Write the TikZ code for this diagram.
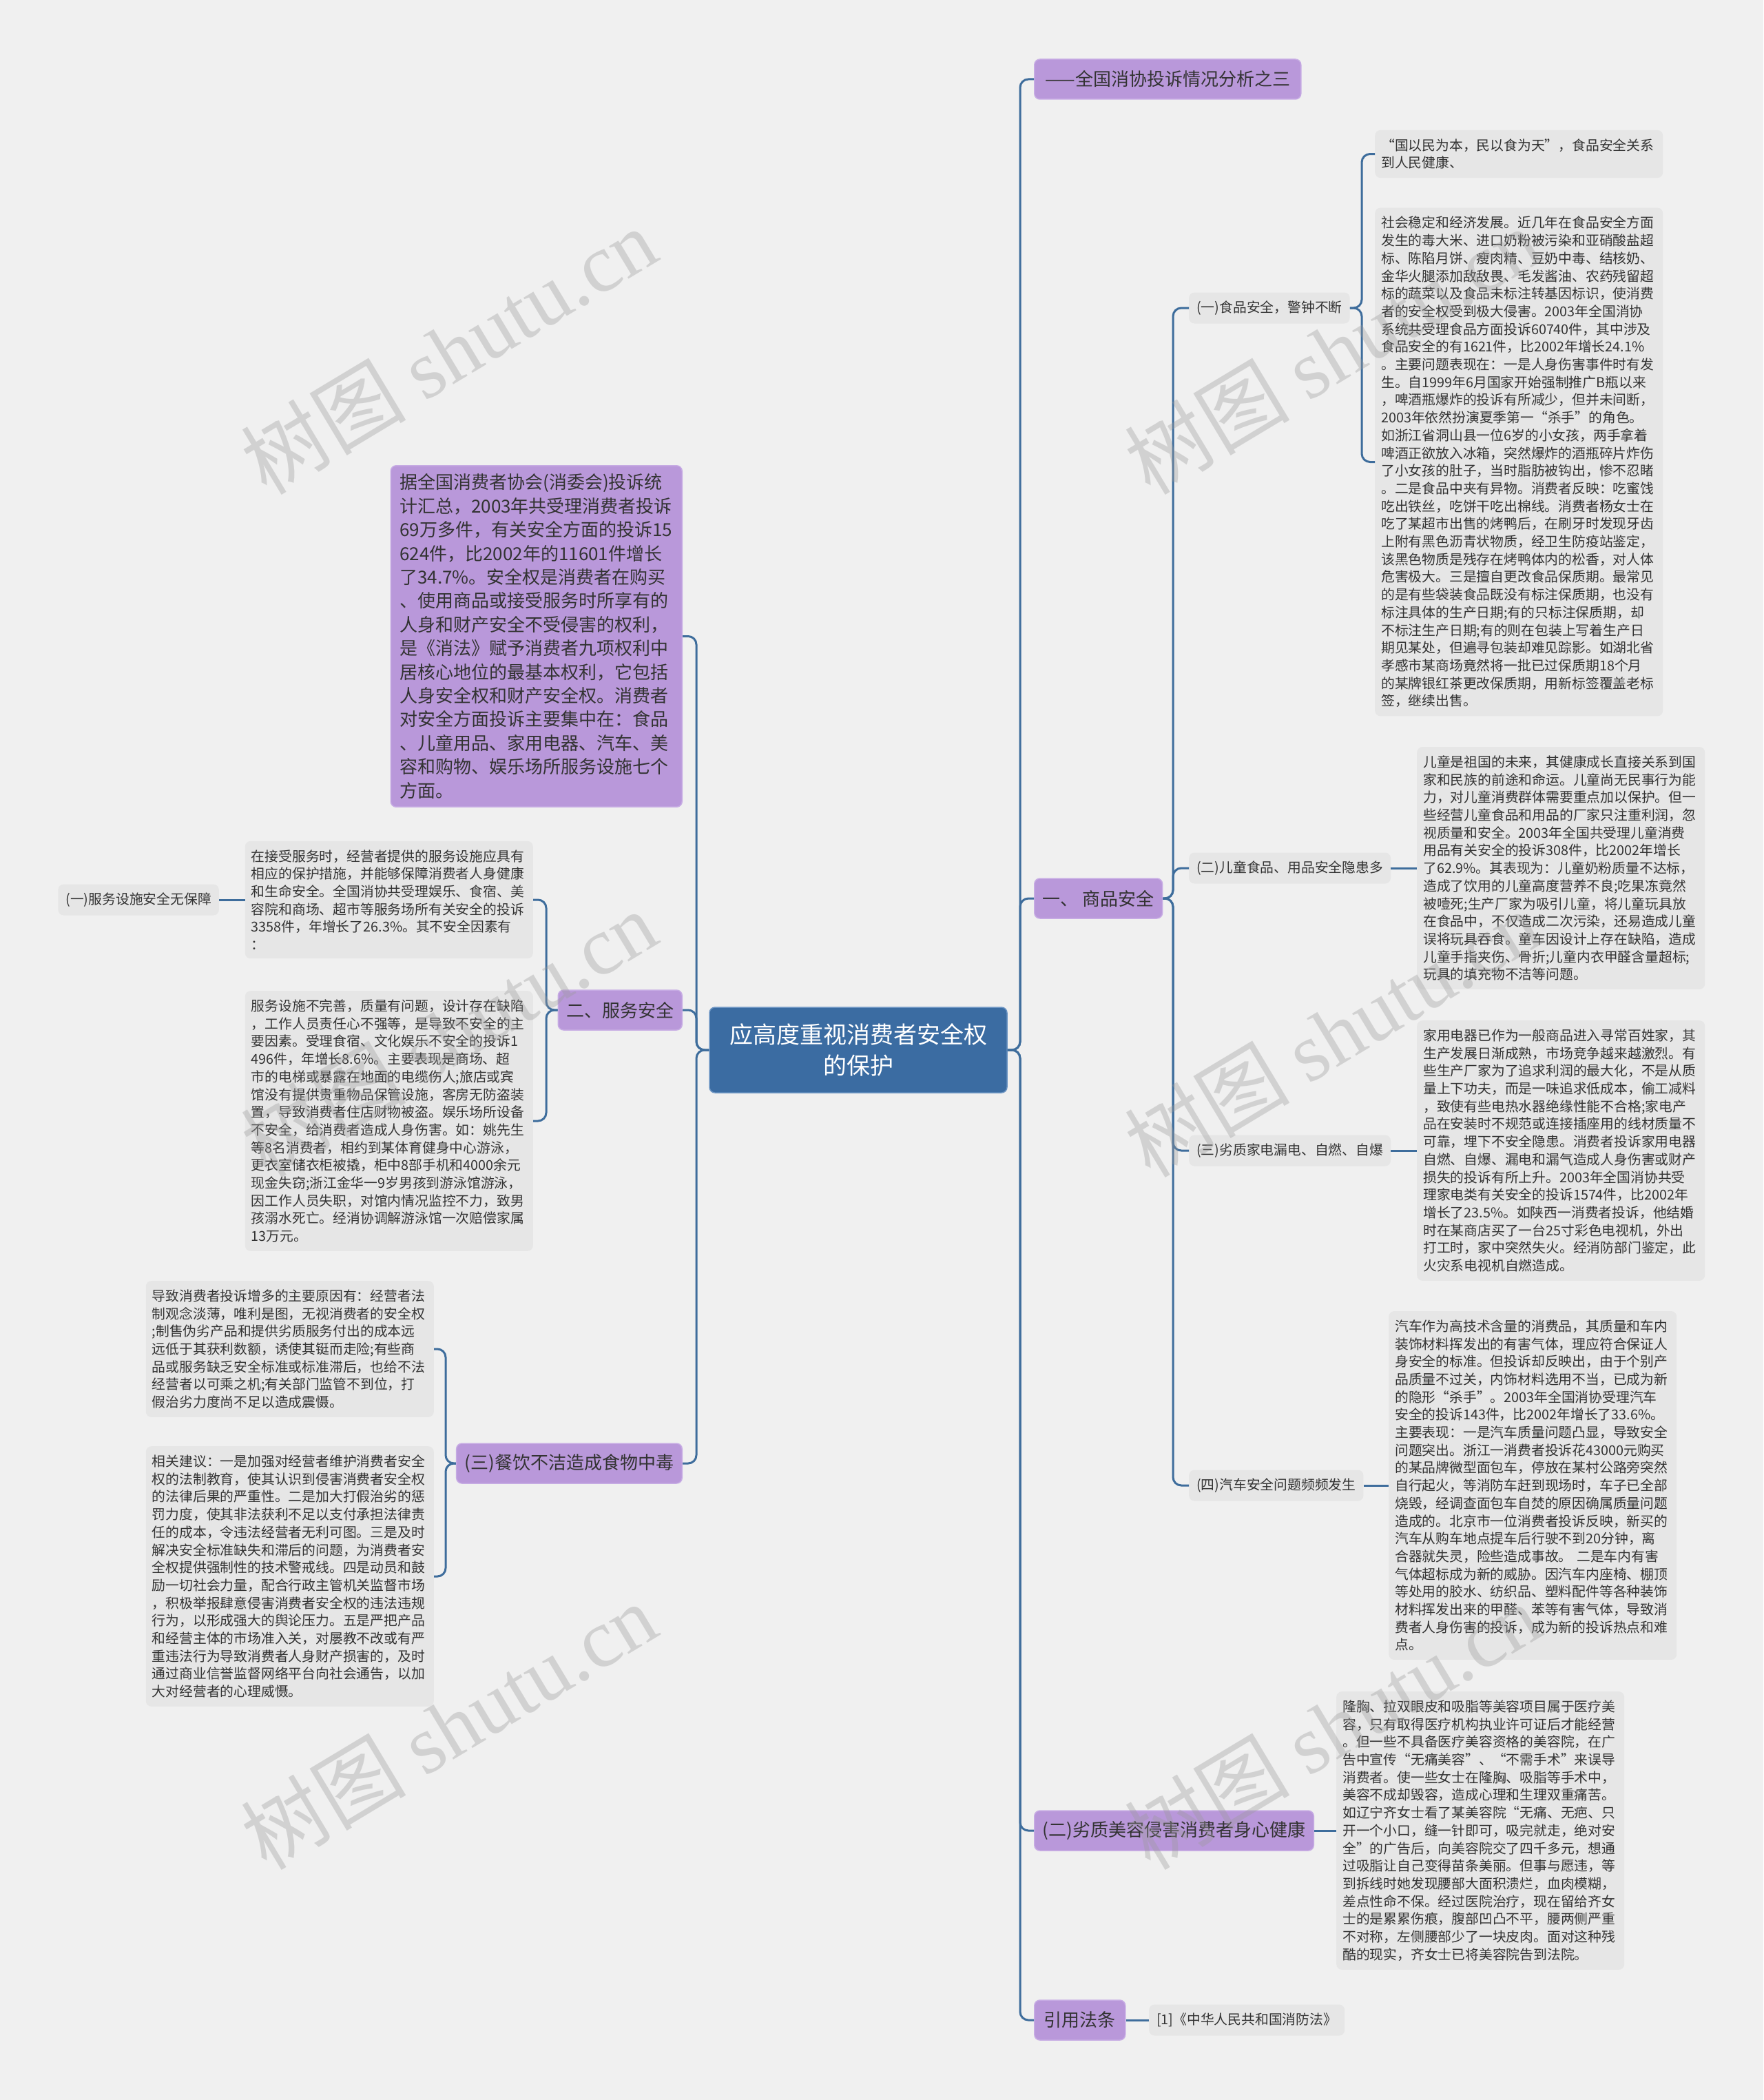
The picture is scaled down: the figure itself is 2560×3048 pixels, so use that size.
\documentclass[tikz,border=0pt]{standalone}
\usepackage{fontspec}
\setmainfont{Noto Sans CJK SC}
\newfontfamily\wmserif{Liberation Serif}
\usetikzlibrary{calc}
\definecolor{bgc}{HTML}{F0F0F0}
\definecolor{boxc}{HTML}{E6E6E6}
\definecolor{purp}{HTML}{B998DA}
\definecolor{purpline}{HTML}{C7ACE4}
\definecolor{linec}{HTML}{3E6D9C}
\definecolor{cenc}{HTML}{3B6CA2}
\definecolor{cenline}{HTML}{6A93C2}
\definecolor{txt}{HTML}{333333}
\definecolor{wmc}{HTML}{9A9A9A}
\tikzset{
 conn/.style={draw=linec, line width=3pt, rounded corners=12pt},
 graybox/.style={fill=boxc, rounded corners=8pt, text=txt, inner xsep=9pt, inner ysep=12.5pt, align=left, text width=400pt, font=\fontsize{19.8}{25.7}\selectfont},
 lbl/.style={fill=boxc, rounded corners=8pt, text=txt, inner xsep=11pt, inner ysep=0pt, minimum height=45pt, font=\fontsize{19.8}{24}\selectfont},
 pnode/.style={fill=purp, draw=purpline, line width=1.5pt, rounded corners=8pt, text=txt, inner xsep=12pt, inner ysep=0pt, minimum height=58pt, font=\fontsize{26}{31}\selectfont},
 bigp/.style={fill=purp, draw=purpline, line width=1.5pt, rounded corners=8pt, text=txt, inner xsep=13pt, inner ysep=12pt, align=left, text width=397pt, font=\fontsize{26}{34.4}\selectfont},
 cnode/.style={fill=cenc, draw=cenline, line width=1.5pt, rounded corners=8pt, text=white, align=center, minimum width=432pt, minimum height=124pt, font=\fontsize{34}{45}\selectfont},
 wm/.style={text=wmc, opacity=0.35, rotate=31, inner sep=0pt, font=\fontsize{120}{140}\selectfont}
}
\begin{document}
\begin{tikzpicture}[x=1pt,y=-1pt]
\fill[bgc] (0,0) rectangle (2560,3048);
\useasboundingbox (0,0) rectangle (2560,3048);

% centre
\node[cnode] (C) at (1246,1524) {应高度重视消费者安全权\\的保护};

% right level 1
\node[pnode, anchor=west, minimum width=387pt] (R1) at (1501,115) {——全国消协投诉情况分析之三};
\node[pnode, anchor=west, minimum width=183pt] (R2) at (1501,1304) {一、 商品安全};
\node[pnode, anchor=west, minimum width=404pt] (R3) at (1501,2657) {(二)劣质美容侵害消费者身心健康};
\node[pnode, anchor=west, minimum width=132pt] (R4) at (1501,2932) {引用法条};

% right level 2
\node[lbl, anchor=west] (A1) at (1726,447) {(一)食品安全，警钟不断};
\node[lbl, anchor=west] (A2) at (1726,1260) {(二)儿童食品、用品安全隐患多};
\node[lbl, anchor=west] (A3) at (1726,1670) {(三)劣质家电漏电、自燃、自爆};
\node[lbl, anchor=west] (A4) at (1726,2156) {(四)汽车安全问题频频发生};

% food
\node[graybox, anchor=west] (F1) at (1996,223.5) {“国以民为本，民以食为天”，食品安全关系\\到人民健康、};
\node[graybox, anchor=west] (F2) at (1996,670.5) {社会稳定和经济发展。近几年在食品安全方面\\
发生的毒大米、进口奶粉被污染和亚硝酸盐超\\
标、陈陷月饼、瘦肉精、豆奶中毒、结核奶、\\
金华火腿添加敌敌畏、毛发酱油、农药残留超\\
标的蔬菜以及食品未标注转基因标识，使消费\\
者的安全权受到极大侵害。2003年全国消协\\
系统共受理食品方面投诉60740件，其中涉及\\
食品安全的有1621件，比2002年增长24.1\%\\
。主要问题表现在：一是人身伤害事件时有发\\
生。自1999年6月国家开始强制推广B瓶以来\\
，啤酒瓶爆炸的投诉有所减少，但并未间断，\\
2003年依然扮演夏季第一“杀手”的角色。\\
如浙江省洞山县一位6岁的小女孩，两手拿着\\
啤酒正欲放入冰箱，突然爆炸的酒瓶碎片炸伤\\
了小女孩的肚子，当时脂肪被钩出，惨不忍睹\\
。二是食品中夹有异物。消费者反映：吃蜜饯\\
吃出铁丝，吃饼干吃出棉线。消费者杨女士在\\
吃了某超市出售的烤鸭后，在刷牙时发现牙齿\\
上附有黑色沥青状物质，经卫生防疫站鉴定，\\
该黑色物质是残存在烤鸭体内的松香，对人体\\
危害极大。三是擅自更改食品保质期。最常见\\
的是有些袋装食品既没有标注保质期，也没有\\
标注具体的生产日期;有的只标注保质期，却\\
不标注生产日期;有的则在包装上写着生产日\\
期见某处，但遍寻包装却难见踪影。如湖北省\\
孝感市某商场竟然将一批已过保质期18个月\\
的某牌银红茶更改保质期，用新标签覆盖老标\\
签，继续出售。};

% children
\node[graybox, anchor=west] (K) at (2057,1260) {儿童是祖国的未来，其健康成长直接关系到国\\
家和民族的前途和命运。儿童尚无民事行为能\\
力，对儿童消费群体需要重点加以保护。但一\\
些经营儿童食品和用品的厂家只注重利润，忽\\
视质量和安全。2003年全国共受理儿童消费\\
用品有关安全的投诉308件，比2002年增长\\
了62.9\%。其表现为：儿童奶粉质量不达标，\\
造成了饮用的儿童高度营养不良;吃果冻竟然\\
被噎死;生产厂家为吸引儿童，将儿童玩具放\\
在食品中，不仅造成二次污染，还易造成儿童\\
误将玩具吞食。童车因设计上存在缺陷，造成\\
儿童手指夹伤、骨折;儿童内衣甲醛含量超标;\\
玩具的填充物不洁等问题。};

% appliances
\node[graybox, anchor=west] (E) at (2057,1670) {家用电器已作为一般商品进入寻常百姓家，其\\
生产发展日渐成熟，市场竞争越来越激烈。有\\
些生产厂家为了追求利润的最大化，不是从质\\
量上下功夫，而是一味追求低成本，偷工减料\\
，致使有些电热水器绝缘性能不合格;家电产\\
品在安装时不规范或连接插座用的线材质量不\\
可靠，埋下不安全隐患。消费者投诉家用电器\\
自燃、自爆、漏电和漏气造成人身伤害或财产\\
损失的投诉有所上升。2003年全国消协共受\\
理家电类有关安全的投诉1574件，比2002年\\
增长了23.5\%。如陕西一消费者投诉，他结婚\\
时在某商店买了一台25寸彩色电视机，外出\\
打工时，家中突然失火。经消防部门鉴定，此\\
火灾系电视机自燃造成。};

% cars
\node[graybox, anchor=west] (Q) at (2016,2156) {汽车作为高技术含量的消费品，其质量和车内\\
装饰材料挥发出的有害气体，理应符合保证人\\
身安全的标准。但投诉却反映出，由于个别产\\
品质量不过关，内饰材料选用不当，已成为新\\
的隐形“杀手”。2003年全国消协受理汽车\\
安全的投诉143件，比2002年增长了33.6\%。\\
主要表现：一是汽车质量问题凸显，导致安全\\
问题突出。浙江一消费者投诉花43000元购买\\
的某品牌微型面包车，停放在某村公路旁突然\\
自行起火，等消防车赶到现场时，车子已全部\\
烧毁，经调查面包车自焚的原因确属质量问题\\
造成的。北京市一位消费者投诉反映，新买的\\
汽车从购车地点提车后行驶不到20分钟，离\\
合器就失灵，险些造成事故。 二是车内有害\\
气体超标成为新的威胁。因汽车内座椅、棚顶\\
等处用的胶水、纺织品、塑料配件等各种装饰\\
材料挥发出来的甲醛、苯等有害气体，导致消\\
费者人身伤害的投诉，成为新的投诉热点和难\\
点。};

% beauty
\node[graybox, anchor=west] (B) at (1940,2657) {隆胸、拉双眼皮和吸脂等美容项目属于医疗美\\
容，只有取得医疗机构执业许可证后才能经营\\
。但一些不具备医疗美容资格的美容院，在广\\
告中宣传“无痛美容”、“不需手术”来误导\\
消费者。使一些女士在隆胸、吸脂等手术中，\\
美容不成却毁容，造成心理和生理双重痛苦。\\
如辽宁齐女士看了某美容院“无痛、无疤、只\\
开一个小口，缝一针即可，吸完就走，绝对安\\
全”的广告后，向美容院交了四千多元，想通\\
过吸脂让自己变得苗条美丽。但事与愿违，等\\
到拆线时她发现腰部大面积溃烂，血肉模糊，\\
差点性命不保。经过医院治疗，现在留给齐女\\
士的是累累伤痕，腹部凹凸不平，腰两侧严重\\
不对称，左侧腰部少了一块皮肉。面对这种残\\
酷的现实，齐女士已将美容院告到法院。};

\node[lbl, anchor=west] (Ref) at (1668,2932) {[1]《中华人民共和国消防法》};

% left level 1
\node[bigp, anchor=east] (L1) at (991,923.5) {据全国消费者协会(消委会)投诉统\\
计汇总，2003年共受理消费者投诉\\
69万多件，有关安全方面的投诉15\\
624件，比2002年的11601件增长\\
了34.7\%。安全权是消费者在购买\\
、使用商品或接受服务时所享有的\\
人身和财产安全不受侵害的权利，\\
是《消法》赋予消费者九项权利中\\
居核心地位的最基本权利，它包括\\
人身安全权和财产安全权。消费者\\
对安全方面投诉主要集中在：食品\\
、儿童用品、家用电器、汽车、美\\
容和购物、娱乐场所服务设施七个\\
方面。};
\node[pnode, anchor=east, minimum width=178pt] (L2) at (991,1466) {二、服务安全};
\node[pnode, anchor=east, minimum width=324pt] (L3) at (991,2124) {(三)餐饮不洁造成食物中毒};

% service
\node[graybox, anchor=east] (S1) at (774,1306) {在接受服务时，经营者提供的服务设施应具有\\
相应的保护措施，并能够保障消费者人身健康\\
和生命安全。全国消协共受理娱乐、食宿、美\\
容院和商场、超市等服务场所有关安全的投诉\\
3358件，年增长了26.3\%。其不安全因素有\\
：};
\node[graybox, anchor=east] (S2) at (774,1627) {服务设施不完善，质量有问题，设计存在缺陷\\
，工作人员责任心不强等，是导致不安全的主\\
要因素。受理食宿、文化娱乐不安全的投诉1\\
496件，年增长8.6\%。主要表现是商场、超\\
市的电梯或暴露在地面的电缆伤人;旅店或宾\\
馆没有提供贵重物品保管设施，客房无防盗装\\
置，导致消费者住店财物被盗。娱乐场所设备\\
不安全，给消费者造成人身伤害。如：姚先生\\
等8名消费者，相约到某体育健身中心游泳，\\
更衣室储衣柜被撬，柜中8部手机和4000余元\\
现金失窃;浙江金华一9岁男孩到游泳馆游泳，\\
因工作人员失职，对馆内情况监控不力，致男\\
孩溺水死亡。经消协调解游泳馆一次赔偿家属\\
13万元。};
\node[lbl, anchor=east] (SL) at (318,1306) {(一)服务设施安全无保障};

% food poisoning
\node[graybox, anchor=east] (P1) at (630,1958) {导致消费者投诉增多的主要原因有：经营者法\\
制观念淡薄，唯利是图，无视消费者的安全权\\
;制售伪劣产品和提供劣质服务付出的成本远\\
远低于其获利数额，诱使其铤而走险;有些商\\
品或服务缺乏安全标准或标准滞后，也给不法\\
经营者以可乘之机;有关部门监管不到位，打\\
假治劣力度尚不足以造成震慑。};
\node[graybox, anchor=east] (P2) at (630,2288) {相关建议：一是加强对经营者维护消费者安全\\
权的法制教育，使其认识到侵害消费者安全权\\
的法律后果的严重性。二是加大打假治劣的惩\\
罚力度，使其非法获利不足以支付承担法律责\\
任的成本，令违法经营者无利可图。三是及时\\
解决安全标准缺失和滞后的问题，为消费者安\\
全权提供强制性的技术警戒线。四是动员和鼓\\
励一切社会力量，配合行政主管机关监督市场\\
，积极举报肆意侵害消费者安全权的违法违规\\
行为，以形成强大的舆论压力。五是严把产品\\
和经营主体的市场准入关，对屡教不改或有严\\
重违法行为导致消费者人身财产损害的，及时\\
通过商业信誉监督网络平台向社会通告，以加\\
大对经营者的心理威慑。};

% spines
\coordinate (sR) at (1481,0);
\coordinate (s2) at (1703,0);
\coordinate (s3) at (1977,0);
\coordinate (sL) at (1011,0);
\coordinate (sS) at (793,0);
\coordinate (sP) at (647,0);

% connectors right
\foreach \n in {R1,R2,R3,R4} \draw[conn] (C.east) -- (C.east -| sR) |- (\n.west);
\foreach \n in {A1,A2,A3,A4} \draw[conn] (R2.east) -- (R2.east -| s2) |- (\n.west);
\foreach \n in {F1,F2} \draw[conn] (A1.east) -- (A1.east -| s3) |- (\n.west);
\draw[conn] (A2.east) -- (K.west);
\draw[conn] (A3.east) -- (E.west);
\draw[conn] (A4.east) -- (Q.west);
\draw[conn] (R3.east) -- (B.west);
\draw[conn] (R4.east) -- (Ref.west);
% connectors left
\foreach \n in {L1,L2,L3} \draw[conn] (C.west) -- (C.west -| sL) |- (\n.east);
\foreach \n in {S1,S2} \draw[conn] (L2.west) -- (L2.west -| sS) |- (\n.east);
\draw[conn] (S1.west) -- (SL.east);
\foreach \n in {P1,P2} \draw[conn] (L3.west) -- (L3.west -| sP) |- (\n.east);

% watermarks
\foreach \wx/\wy [count=\i] in {651/509, 1934/509, 651/1500, 1934/1500, 651/2505, 1934/2505}
  \node[wm] (wm\i) at (\wx,\wy) {树图 {\wmserif shutu.cn}};
\end{tikzpicture}
\end{document}
